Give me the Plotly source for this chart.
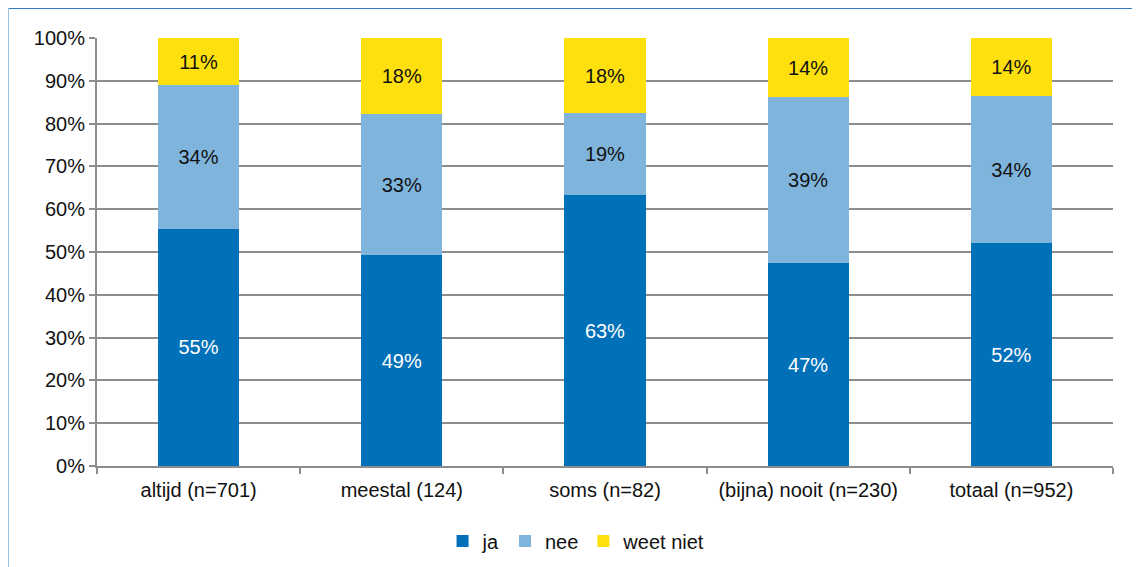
import plotly.graph_objects as go

# categorieen en percentages
categorieen = ['altijd (n=701)', 'meestal (124)', 'soms (n=82)', '(bijna) nooit (n=230)', 'totaal (n=952)']
ja = [55.4, 49.3, 63.3, 47.4, 52.1]
nee = [33.6, 32.9, 19.1, 38.8, 34.3]
weet_niet = [11.0, 17.8, 17.6, 13.8, 13.6]

y_ticks = [0, 10, 20, 30, 40, 50, 60, 70, 80, 90, 100]
y_labels = [f'{t}%' for t in y_ticks]

series = [
    ('ja', ja, '#0070B8', 'white'),
    ('nee', nee, '#7FB5DC', '#111111'),
    ('weet niet', weet_niet, '#FFE00F', '#111111'),
]

fig = go.Figure()
for naam, waarden, kleur, tekstkleur in series:
    fig.add_trace(go.Bar(
        x=categorieen, y=waarden, name=naam,
        marker=dict(color=kleur, line=dict(width=0)),
        text=[f'{round(v)}%' for v in waarden],
        textposition='inside', insidetextanchor='middle',
        textfont=dict(color=tekstkleur, size=20, family='Liberation Sans, Arial'),
        textangle=0,
    ))

# de pagina heeft 8px body-marge, daarom marges iets kleiner
fig.update_layout(
    barmode='stack', bargap=0.6,
    width=1140, height=567,
    margin=dict(l=89, r=35, t=30, b=109),
    plot_bgcolor='white', paper_bgcolor='white',
    font=dict(family='Liberation Sans, Arial', size=20, color='#111111'),
    legend=dict(orientation='h', x=0.472, xanchor='center', y=-0.175, yanchor='middle',
                font=dict(size=20), itemwidth=30, traceorder='normal'),
    xaxis=dict(showline=True, linecolor='#8c8c8c', linewidth=2,
               ticks='outside', tickson='boundaries', ticklen=6, tickcolor='#8c8c8c', tickwidth=2,
               showgrid=False, tickfont=dict(size=20), ticklabelstandoff=5),
    yaxis=dict(range=[0, 100], tickvals=y_ticks, ticktext=y_labels,
               showline=True, linecolor='#8c8c8c', linewidth=2,
               ticks='outside', ticklen=6, tickcolor='#8c8c8c', tickwidth=2,
               showgrid=True, gridcolor='#8c8c8c', gridwidth=2, zeroline=False,
               tickfont=dict(size=20)),
    shapes=[
        dict(type='line', xref='paper', yref='paper', x0=-0.0876, x1=1.05, y0=1.07, y1=1.07,
             line=dict(color='#2f7fc1', width=2)),
        dict(type='line', xref='paper', yref='paper', x0=-0.0876, x1=-0.0876, y0=1.07, y1=-0.26,
             line=dict(color='#9cc3e6', width=2)),
    ],
)

fig.write_html('out.html')
